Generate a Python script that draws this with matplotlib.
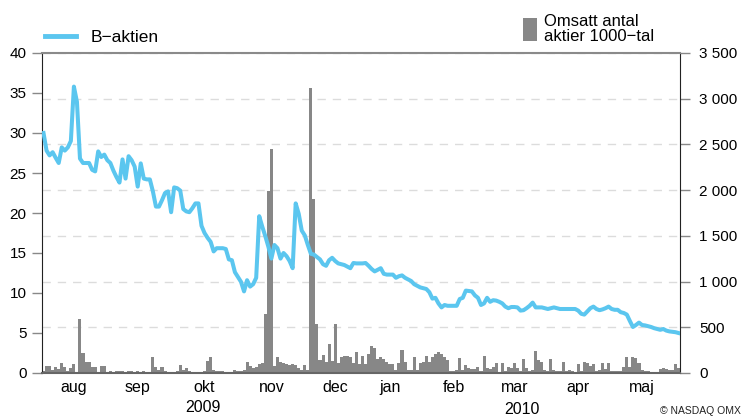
import numpy as np
import pandas as pd
import matplotlib
matplotlib.use("Agg")
import matplotlib.pyplot as plt
from matplotlib.lines import Line2D
from matplotlib.patches import Patch
from matplotlib.ticker import FuncFormatter, FixedLocator
import matplotlib.transforms as mtransforms

plt.rcParams['font.family'] = ['Liberation Sans', 'DejaVu Sans']

# trading days (Stockholm), Aug 2009 - Jun 2010
holidays = ['2009-12-24', '2009-12-25', '2009-12-31', '2010-01-01',
            '2010-01-06', '2010-04-02', '2010-04-05', '2010-05-13']
days = pd.bdate_range('2009-08-03', '2010-06-02')
days = days[~days.isin(pd.to_datetime(holidays))]

# B-aktien, closing price (kr), one value per trading day
price = [
    30.0, 27.8, 27.2, 27.6, 26.9, 26.25, 28.2, 27.8, 28.2, 29.0,
    35.8, 33.9, 26.8, 26.25, 26.25, 26.25, 25.4, 25.2, 27.7, 27.0,
    27.3, 26.6, 26.25, 25.3, 24.5, 23.8, 26.7, 24.3, 27.1, 26.6,
    25.8, 23.3, 26.2, 24.3, 24.2, 24.2, 22.7, 20.8, 20.8, 21.6,
    22.5, 22.7, 20.1, 23.2, 23.1, 22.8, 20.5, 20.2, 20.1, 20.6,
    21.2, 21.2, 18.4, 17.5, 16.9, 16.4, 15.2, 15.6, 15.6, 15.6,
    15.5, 14.2, 14.1, 12.6, 12.0, 11.4, 10.2, 11.6, 10.8, 11.1,
    11.9, 19.6, 18.3, 17.1, 15.8, 14.3, 16.0, 15.6, 14.3, 15.0,
    14.6, 14.0, 13.1, 21.2, 19.9, 17.8, 17.2, 16.0, 14.9, 14.8,
    14.5, 14.2, 13.6, 13.4, 14.1, 14.4, 14.0, 13.7, 13.6, 13.5,
    13.3, 13.1, 13.75, 13.7, 13.7, 13.7, 13.75, 13.4, 13.0, 12.7,
    12.9, 13.1, 12.4, 12.3, 12.3, 12.3, 11.9, 12.1, 12.2, 11.9,
    11.7, 11.5, 11.1, 10.9, 10.7, 10.6, 10.5, 10.1, 9.3, 9.4,
    8.7, 8.2, 8.5, 8.4, 8.4, 8.4, 8.4, 9.25, 9.4, 10.3,
    10.25, 10.2, 9.7, 9.4, 8.5, 8.7, 9.4, 8.9, 9.1, 9.05,
    8.9, 8.7, 8.3, 8.1, 8.25, 8.25, 8.2, 7.8, 7.85, 8.1,
    8.4, 8.8, 8.2, 8.2, 8.2, 8.1, 8.0, 8.1, 8.2, 8.1,
    8.0, 8.0, 8.0, 8.0, 8.0, 8.0, 7.8, 7.4, 7.3, 7.7,
    8.1, 8.3, 8.0, 7.85, 7.95, 8.1, 8.3, 8.0, 7.9, 7.9,
    7.6, 7.5, 7.3, 6.5, 5.75, 6.0, 6.3, 6.0, 5.95, 5.85,
    5.75, 5.6, 5.5, 5.4, 5.5, 5.3, 5.2, 5.15, 5.1, 5.0,
]

# turnover, thousands of shares per trading day
volume = [
    25, 77, 77, 33, 70, 40, 105, 70, 18, 50,
    95, 15, 590, 220, 120, 120, 70, 70, 10, 75,
    75, 15, 22, 15, 25, 18, 18, 10, 25, 25,
    10, 25, 10, 25, 15, 15, 180, 62, 33, 62,
    25, 11, 7, 11, 25, 91, 33, 55, 25, 15,
    7, 11, 15, 25, 135, 179, 33, 22, 18, 18,
    11, 11, 11, 33, 18, 25, 33, 120, 77, 55,
    69, 98, 110, 645, 1991, 2451, 80, 171, 120, 113,
    98, 91, 98, 84, 60, 33, 88, 33, 3121, 1903,
    536, 142, 197, 124, 317, 135, 536, 113, 179, 186,
    186, 179, 113, 230, 98, 186, 98, 208, 300, 275,
    150, 170, 150, 125, 100, 100, 35, 106, 252, 124,
    33, 33, 179, 33, 106, 124, 186, 124, 179, 208,
    230, 208, 171, 142, 18, 25, 33, 160, 33, 88,
    50, 40, 40, 70, 20, 186, 50, 40, 69, 106,
    15, 113, 25, 69, 50, 106, 50, 20, 150, 50,
    20, 33, 244, 142, 124, 33, 20, 150, 33, 20,
    20, 124, 20, 33, 25, 15, 98, 20, 124, 106,
    77, 98, 20, 33, 106, 40, 113, 25, 25, 25,
    25, 69, 170, 69, 170, 160, 106, 33, 20, 25,
    15, 15, 15, 40, 50, 40, 33, 33, 98, 60,
]

months = ['aug', 'sep', 'okt', 'nov', 'dec', 'jan', 'feb', 'mar', 'apr', 'maj']
month_mid = ['2009-08-15', '2009-09-15', '2009-10-15', '2009-11-15', '2009-12-15',
             '2010-01-15', '2010-02-15', '2010-03-15', '2010-04-15', '2010-05-15']
years = ['2009', '2010']

line_color = '#5bc6ef'
bar_color = '#878787'

n = len(days)
x = np.arange(n)

fig = plt.figure(figsize=(7.47, 4.18), dpi=100)
ax = fig.add_axes([42 / 747, 1 - 373 / 418, 638 / 747, 320 / 418])
axv = ax.twinx()
ax.set_zorder(axv.get_zorder() + 1)
ax.patch.set_visible(False)

# volume bars on the right axis
axv.bar(x, volume, width=1.0, color=bar_color, linewidth=0, zorder=2)
axv.set_ylim(0, 3500)
axv.set_yticks(np.arange(0, 3501, 500))
axv.yaxis.set_major_formatter(FuncFormatter(lambda v, p: f"{v:,.0f}".replace(",", " ")))
axv.set_axisbelow(True)
axv.yaxis.grid(True, color='#dcdcdc', linestyle=(0, (6, 5)), linewidth=1.0)

# share price on the left axis
ax.plot(x, price, color=line_color, linewidth=2.9, solid_joinstyle='round', zorder=3)
ax.set_ylim(0, 40)
ax.set_yticks(np.arange(0, 41, 5))
ax.set_xlim(-0.5, n - 0.5)

for s in ['top', 'bottom', 'left', 'right']:
    axv.spines[s].set_visible(False)
ax.spines['right'].set_visible(False)
axv.spines['right'].set_visible(True)
axv.spines['right'].set_color('#222222')
ax.spines['left'].set_color('#222222')
ax.spines['top'].set_color('#8a8a8a')
ax.spines['top'].set_linewidth(1.5)
ax.spines['bottom'].set_color('#666666')
ax.spines['bottom'].set_linewidth(1.5)

ax.tick_params(axis='y', length=7, width=1, color='#888888', labelsize=11, pad=4)
axv.tick_params(axis='y', length=7, width=1, color='#888888', labelsize=11, pad=7)

# month labels at mid-month, no tick marks
mid_idx = [int(days.searchsorted(pd.Timestamp(d))) for d in month_mid]
ax.xaxis.set_major_locator(FixedLocator(mid_idx))
ax.set_xticklabels(months)
ax.tick_params(axis='x', length=0, labelsize=11.5, pad=5)

# year labels centred on the visible part of each year
trans = mtransforms.blended_transform_factory(ax.transData, fig.transFigure)
split = int(days.searchsorted(pd.Timestamp('2010-01-01')))
ax.text((-0.5 + split - 0.5) / 2, 1 - 407 / 418, years[0], transform=trans,
        ha='center', va='center', fontsize=11.5)
ax.text((split - 0.5 + n - 0.5) / 2, 1 - 409 / 418, years[1], transform=trans,
        ha='center', va='center', fontsize=11.5)

fig.text(741 / 747, 1 - 411 / 418, '© NASDAQ OMX', ha='right', va='center',
         fontsize=7.5, color='#222222')

# legends above the plot
leg1 = fig.legend(handles=[Line2D([], [], color=line_color, linewidth=3.5)],
                  labels=['B\u2212aktien'], loc='center left',
                  bbox_to_anchor=(45 / 747, 1 - 37 / 418), frameon=False,
                  borderpad=0, borderaxespad=0,
                  fontsize=12.5, handlelength=1.8, handletextpad=0.8)
leg2 = fig.legend(handles=[Patch(facecolor=bar_color, edgecolor='none')],
                  labels=['Omsatt antal\naktier 1000\u2212tal'], loc='center left',
                  bbox_to_anchor=(523 / 747, 1 - 29 / 418), frameon=False,
                  borderpad=0, borderaxespad=0,
                  fontsize=12, handlelength=0.84, handleheight=1.7,
                  handletextpad=0.42, labelspacing=0.1)
for t in leg2.get_texts():
    t.set_linespacing(1.0)

fig.savefig('out.png', dpi=100)
